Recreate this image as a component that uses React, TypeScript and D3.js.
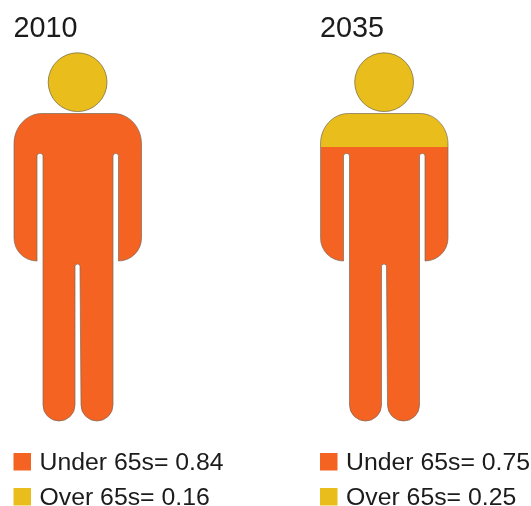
import * as d3 from "d3"

const years = ["2010", "2035"]
const under65 = [0.84, 0.75]
const over65 = [0.16, 0.25]
const groupLabels = ["Under 65s", "Over 65s"]

const W = 531
const H = 506
const UNDER_COLOR = "#f46323"
const OVER_COLOR = "#e8bd1a"

// x position of each figure's left edge
const xScale = d3.scalePoint<string>().domain(years).range([14, 320.5])
// share of the population measured from the top of the head
const fillScale = d3.scaleLinear().domain([0, 1]).range([52, 432])
// legend rows
const legendY = d3.scalePoint<string>().domain(groupLabels).range([453, 488])

// silhouette, local coords, left edge of the shoulders at 0
function bodyPath() {
  const p = d3.path()
  p.moveTo(28, 113.5)
  p.lineTo(99.5, 113.5)
  p.bezierCurveTo(115, 113.5, 127.5, 127, 127.5, 144)
  p.lineTo(127.5, 238)
  p.arcTo(127.5, 261, 104.5, 261, 23)
  p.lineTo(104.5, 156)
  p.arcTo(104.5, 153.5, 102, 153.5, 2.5)
  p.lineTo(101.5, 153.5)
  p.arcTo(99, 153.5, 99, 156, 2.5)
  p.lineTo(99, 405)
  p.arc(83, 405, 16, 0, Math.PI)
  p.lineTo(66, 266.5)
  p.arcTo(66, 264, 63.5, 264, 2.5)
  p.arcTo(61, 264, 61, 266.5, 2.5)
  p.lineTo(61, 405)
  p.arc(45, 405, 16, 0, Math.PI)
  p.lineTo(29, 156)
  p.arcTo(29, 153.5, 26.5, 153.5, 2.5)
  p.lineTo(25.5, 153.5)
  p.arcTo(23, 153.5, 23, 156, 2.5)
  p.lineTo(23, 261)
  p.arcTo(0, 261, 0, 238, 23)
  p.lineTo(0, 144)
  p.bezierCurveTo(0, 127, 12.5, 113.5, 28, 113.5)
  p.closePath()
  return p.toString()
}

const HEAD = { cx: 63.6, cy: 82.2, r: 29.4 }

export default function App() {
  const body = bodyPath()
  return (
    <svg
      width={W}
      height={H}
      viewBox={`0 0 ${W} ${H}`}
      style={{ position: "absolute", left: 0, top: 0, background: "#fff" }}
      fontFamily="'Liberation Sans', Arial, sans-serif"
    >
      <defs>
        <clipPath id="figure-clip">
          <path d={body} />
          <circle cx={HEAD.cx} cy={HEAD.cy} r={HEAD.r} />
        </clipPath>
        <filter id="soft" x="0" y="0" width="100%" height="100%">
          <feGaussianBlur stdDeviation={0.35} />
        </filter>
      </defs>
      <g filter="url(#soft)">
        <rect width={W} height={H} fill="#fff" />
        {years.map((year, i) => {
          const x0 = xScale(year) as number
          const split = fillScale(over65[i])
          return (
            <g key={year} transform={`translate(${x0},0)`}>
              <text x={-0.5} y={37} fontSize={28.8} fill="#1a1a1a">
                {year}
              </text>
              <g clipPath="url(#figure-clip)">
                <rect x={-2} y={fillScale(0)} width={132} height={split - fillScale(0)} fill={OVER_COLOR} />
                <rect x={-2} y={split} width={132} height={fillScale(1) - split} fill={UNDER_COLOR} />
              </g>
              <path d={body} fill="none" stroke="#7a6a5a" strokeWidth={0.7} />
              <circle cx={HEAD.cx} cy={HEAD.cy} r={HEAD.r} fill="none" stroke="#6e6440" strokeWidth={0.7} />
              {groupLabels.map((label, j) => {
                const y = legendY(label) as number
                const value = j === 0 ? under65[i] : over65[i]
                return (
                  <g key={label}>
                    <rect x={-0.5} y={y} width={17.5} height={17.5} fill={j === 0 ? UNDER_COLOR : OVER_COLOR} />
                    <text x={25.5} y={y + 17} fontSize={24.8} fill="#1a1a1a">
                      {`${label}= ${d3.format(".2f")(value)}`}
                    </text>
                  </g>
                )
              })}
            </g>
          )
        })}
      </g>
    </svg>
  )
}
